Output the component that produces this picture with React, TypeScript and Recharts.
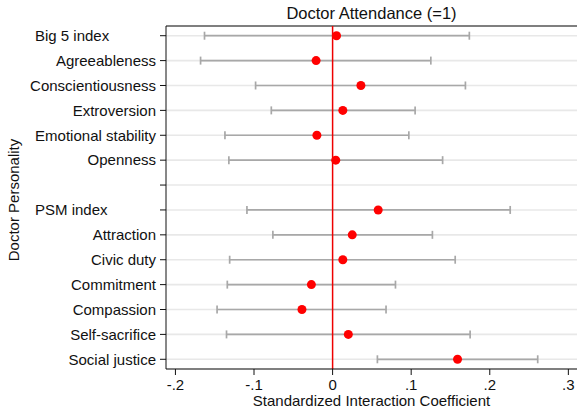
import React from "react";
import {
  ScatterChart,
  Scatter,
  XAxis,
  YAxis,
  CartesianGrid,
  ErrorBar,
  ReferenceLine,
  Label,
} from "recharts";

const FONT = '"Liberation Sans", Arial, Helvetica, sans-serif';

const labels = [
  "Big 5 index",
  "Agreeableness",
  "Conscientiousness",
  "Extroversion",
  "Emotional stability",
  "Openness",
  "",
  "PSM index",
  "Attraction",
  "Civic duty",
  "Commitment",
  "Compassion",
  "Self-sacrifice",
  "Social justice",
];
const indexLabels = ["Big 5 index", "PSM index"];

const coef = [0.005, -0.021, 0.036, 0.013, -0.02, 0.004, null, 0.058, 0.025, 0.013, -0.027, -0.039, 0.02, 0.159];
const lower = [-0.163, -0.168, -0.098, -0.078, -0.137, -0.132, null, -0.109, -0.076, -0.131, -0.134, -0.147, -0.135, 0.057];
const upper = [0.174, 0.125, 0.169, 0.105, 0.097, 0.14, null, 0.226, 0.127, 0.156, 0.08, 0.068, 0.175, 0.261];

const xTicks = [-0.2, -0.1, 0, 0.1, 0.2, 0.3];
const yTicks = labels.map((_, i) => i + 1);

const data = labels
  .map((name, i) => ({
    name,
    pos: i + 1,
    coef: coef[i],
    err: coef[i] == null ? null : [coef[i]! - lower[i]!, upper[i]! - coef[i]!],
  }))
  .filter((d) => d.coef != null);

const fmtX = (v: number) => (v === 0 ? "0" : v.toFixed(1).replace("0.", "."));

function YTick(props: any) {
  const { x, y, payload } = props;
  const text = labels[payload.value - 1] ?? "";
  const isIndex = indexLabels.includes(text);
  return (
    <text
      x={isIndex ? 35 : x}
      y={y}
      dy="0.355em"
      textAnchor={isIndex ? "start" : "end"}
      fontSize={15}
      fontFamily={FONT}
      fill="#111"
    >
      {text}
    </text>
  );
}

export default function App() {
  return (
    <div style={{ position: "absolute", left: 0, top: 0, width: 577, height: 408, background: "#fff" }}>
      <div
        style={{
          position: "absolute",
          left: 166,
          width: 411,
          top: 3,
          textAlign: "center",
          fontFamily: FONT,
          fontSize: 16.5,
          color: "#111",
          lineHeight: "20px",
        }}
      >
        Doctor Attendance (=1)
      </div>
      <ScatterChart width={577} height={408} margin={{ top: 26, right: 0, bottom: 0, left: 0 }}>
        <CartesianGrid horizontal vertical={false} stroke="#e8e8e8" strokeWidth={1.6} />
        <XAxis
          type="number"
          dataKey="coef"
          domain={[-0.212, 0.311]}
          allowDataOverflow
          ticks={xTicks}
          tickFormatter={fmtX}
          height={39}
          tickSize={6}
          tickMargin={4}
          stroke="#111"
          tick={{ fill: "#111", fontSize: 15, fontFamily: FONT }}
        >
          <Label
            value="Standardized Interaction Coefficient"
            position="insideBottom"
            offset={2}
            style={{ fontSize: 15, fontFamily: FONT, fill: "#111" }}
          />
        </XAxis>
        <YAxis
          type="number"
          dataKey="pos"
          domain={[0.61, 14.39]}
          reversed
          ticks={yTicks}
          interval={0}
          width={166}
          tickSize={6}
          tickMargin={4}
          stroke="#111"
          tick={<YTick />}
        >
          <Label
            content={(p: any) => {
              const vb = p.viewBox || { y: 26, height: 343 };
              const cy = vb.y + vb.height / 2 + 2.5;
              return (
                <text
                  x={19}
                  y={cy}
                  transform={`rotate(-90, 19, ${cy})`}
                  textAnchor="middle"
                  fontSize={15}
                  fontFamily={FONT}
                  fill="#111"
                >
                  Doctor Personality
                </text>
              );
            }}
          />
        </YAxis>
        <ReferenceLine y={0.61} stroke="#111" strokeWidth={1} ifOverflow="visible" />
        <Scatter data={data} isAnimationActive={false} shape={() => <g />}>
          <ErrorBar dataKey="err" direction="x" width={4} stroke="#a8a8a8" strokeWidth={1.7} />
        </Scatter>
        <ReferenceLine x={0} stroke="#ee0000" strokeWidth={1.5} />
        <Scatter
          data={data}
          isAnimationActive={false}
          shape={(p: any) => <circle cx={p.cx} cy={p.cy} r={4.5} fill="#f00" />}
        />
      </ScatterChart>
    </div>
  );
}
